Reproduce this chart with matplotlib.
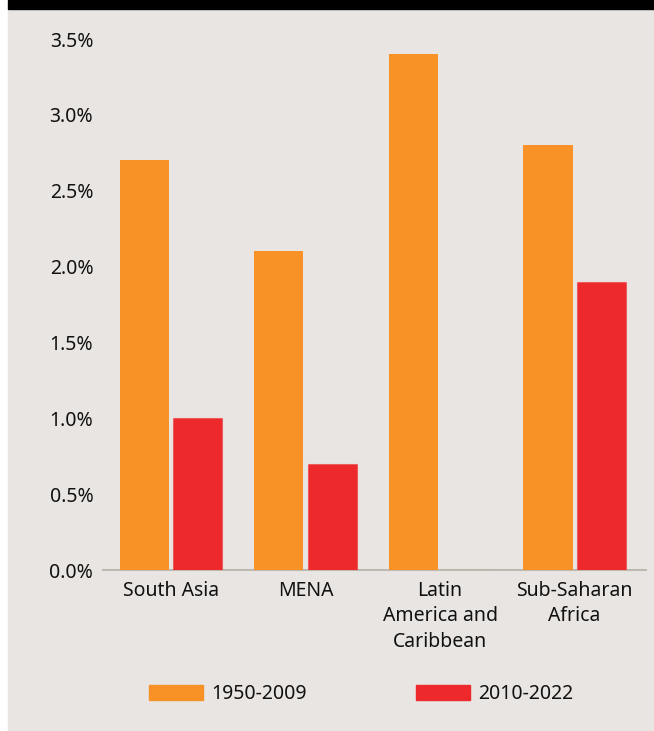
import matplotlib
matplotlib.use("Agg")
import matplotlib.pyplot as plt
import matplotlib.patches as mpatches
import numpy as np

# ── Data ─────────────────────────────────────────────────────────────────────
regions = ["South Asia", "MENA", "Latin\nAmerica and\nCaribbean", "Sub-Saharan\nAfrica"]
series_labels = ["1950-2009", "2010-2022"]
growth_1950_2009 = [2.7, 2.1, 3.4, 2.8]
growth_2010_2022 = [1.0, 0.7, 0.0, 1.9]
y_ticks = [0.0, 0.5, 1.0, 1.5, 2.0, 2.5, 3.0, 3.5]

# ── Style ────────────────────────────────────────────────────────────────────
BG     = "#E9E5E2"
ORANGE = "#F89226"
RED    = "#EE292C"
AXIS   = "#BDB8B2"
TEXT   = "#111111"
FS     = 14
plt.rcParams["font.family"] = ["Noto Sans", "DejaVu Sans"]

W, H = 654, 731
fig = plt.figure(figsize=(W / 100, H / 100), dpi=100, facecolor="white")

# panel background + black band on top (behind the axes)
fig.patches.append(mpatches.Rectangle((8 / W, 0), 1 - 8 / W, (H - 9) / H,
                                      transform=fig.transFigure, color=BG, zorder=-2))
fig.patches.append(mpatches.Rectangle((8 / W, (H - 9) / H), 1 - 8 / W, 9 / H,
                                      transform=fig.transFigure, color="black", zorder=-2))

ax = fig.add_axes([103 / W, (H - 570) / H, (646 - 103) / W, (570 - 39) / H])
ax.set_facecolor("none")

x = np.arange(len(regions))
width = 0.365
off = 0.198
ax.bar(x - off, growth_1950_2009, width, color=ORANGE, edgecolor="none",
       label=series_labels[0], zorder=2)
# thin edge so the zero-height bar still shows as a faint line on the axis
ax.bar(x + off, growth_2010_2022, width, color=RED, edgecolor=(0.93, 0.16, 0.17, 0.45),
       linewidth=0.8, label=series_labels[1], zorder=2)

ax.set_xlim(-0.505, 3.53)
ax.set_ylim(0, 3.5)
ax.set_yticks(y_ticks)
ax.set_yticklabels([f"{v:.1f}%" for v in y_ticks])
ax.set_xticks(x)
ax.set_xticklabels(regions, linespacing=1.35)

ax.tick_params(axis="both", length=0, labelsize=FS, colors=TEXT)
ax.tick_params(axis="y", pad=7)
ax.tick_params(axis="x", pad=8)
for s in ["top", "right", "left"]:
    ax.spines[s].set_visible(False)
ax.spines["bottom"].set_color(AXIS)
ax.spines["bottom"].set_linewidth(1.5)
ax.spines["bottom"].set_zorder(1)

handles = [mpatches.Patch(color=ORANGE), mpatches.Patch(color=RED)]
fig.legend(handles, series_labels, loc="center left",
           bbox_to_anchor=(149 / W, (H - 694) / H), ncol=2, frameon=False,
           fontsize=FS, handlelength=2.8, handleheight=0.85, handletextpad=0.4,
           columnspacing=5.6, borderpad=0, borderaxespad=0, labelcolor=TEXT)

fig.savefig("out.png", dpi=100, facecolor="white")
